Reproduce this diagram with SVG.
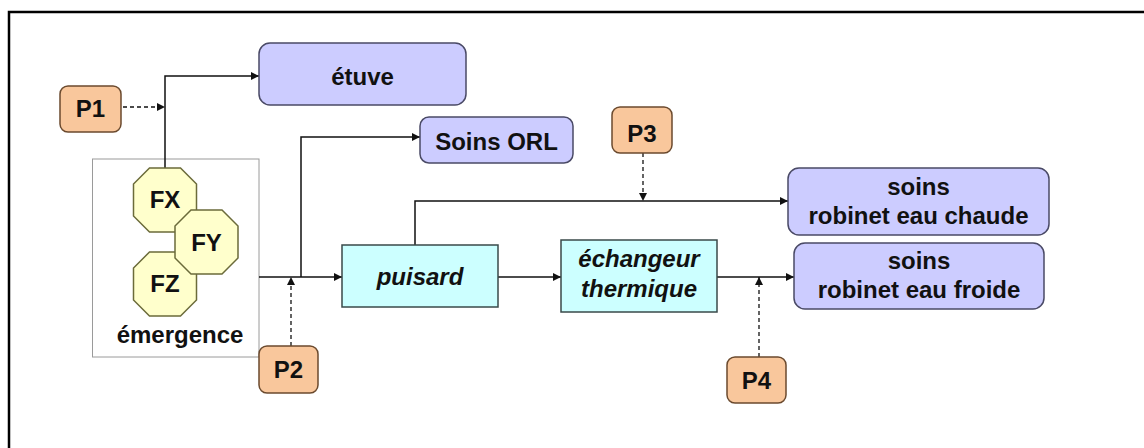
<svg xmlns="http://www.w3.org/2000/svg" width="1144" height="448" viewBox="0 0 1144 448">
<style>
text{font-family:"Liberation Sans",Arial,sans-serif;font-weight:bold;font-size:24px;fill:#111;text-anchor:middle}
.it{font-style:italic}
.p rect{fill:#F9C79C;stroke:#6B4A2E;stroke-width:1.5}
.dest rect{fill:#CCCCFF;stroke:#4A4A66;stroke-width:1.5}
.proc rect{fill:#CCFFFF;stroke:#3A4A4A;stroke-width:1.5}
.oct polygon{fill:#FFFFCC;stroke:#6B6B3A;stroke-width:1.5}
.c{fill:none;stroke:#111;stroke-width:1.5}
.d{fill:none;stroke:#111;stroke-width:1.3;stroke-dasharray:4,3}
</style>
<defs>
<marker id="ah" viewBox="0 0 10 10" refX="10" refY="5" markerWidth="10" markerHeight="8" markerUnits="userSpaceOnUse" orient="auto">
<path d="M0,0 L10,5 L0,10 z" fill="#111"/>
</marker>
</defs>
<rect width="1144" height="448" fill="#fff"/>
<path d="M9,448 V12 H1144" fill="none" stroke="#000" stroke-width="2.5"/>

<g id="emergence">
<rect x="92.5" y="159" width="166.5" height="198" fill="#fff" stroke="#9a9a9a" stroke-width="1"/>
<text x="180" y="343">émergence</text>
</g>

<g id="connectors">
<path class="c" d="M165,168 V76 H259" marker-end="url(#ah)"/>
<path class="d" d="M123,107 H165" marker-end="url(#ah)"/>
<path class="c" d="M259,277 H342" marker-end="url(#ah)"/>
<path class="c" d="M301,277 V137 H420" marker-end="url(#ah)"/>
<path class="d" d="M291,346 V277" marker-end="url(#ah)"/>
<path class="c" d="M415,245 V201 H788" marker-end="url(#ah)"/>
<path class="d" d="M643,153 V201" marker-end="url(#ah)"/>
<path class="c" d="M498,277 H561" marker-end="url(#ah)"/>
<path class="c" d="M717,277 H794" marker-end="url(#ah)"/>
<path class="d" d="M759,357 V277" marker-end="url(#ah)"/>
</g>

<g id="FX" class="oct">
<polygon points="149.5,168 180.5,168 196.5,184 196.5,216 180.5,232 149.5,232 133.5,216 133.5,184"/>
<text x="165" y="208">FX</text>
</g>
<g id="FZ" class="oct">
<polygon points="149.5,252 180.5,252 196.5,268 196.5,300 180.5,316 149.5,316 133.5,300 133.5,268"/>
<text x="165" y="292">FZ</text>
</g>
<g id="FY" class="oct">
<polygon points="191,210 222,210 238,226 238,258 222,274 191,274 175,258 175,226"/>
<text x="206.5" y="251">FY</text>
</g>

<g id="P1" class="p">
<rect x="60" y="86" width="61" height="46" rx="8"/>
<text x="90.5" y="117">P1</text>
</g>
<g id="P2" class="p">
<rect x="259" y="346" width="59" height="47" rx="8"/>
<text x="288.5" y="378">P2</text>
</g>
<g id="P3" class="p">
<rect x="612" y="107" width="60" height="46" rx="8"/>
<text x="642" y="142">P3</text>
</g>
<g id="P4" class="p">
<rect x="727" y="357" width="59" height="46" rx="8"/>
<text x="756.5" y="389">P4</text>
</g>

<g id="etuve" class="dest">
<rect x="259" y="43" width="207" height="62" rx="11"/>
<text x="362.5" y="85">étuve</text>
</g>
<g id="soins-orl" class="dest">
<rect x="420" y="117" width="153" height="46" rx="9"/>
<text x="496.5" y="150">Soins ORL</text>
</g>
<g id="soins-chaude" class="dest">
<rect x="788" y="168" width="261" height="67" rx="11"/>
<text x="918.5" y="195">soins</text>
<text x="918.5" y="224">robinet eau chaude</text>
</g>
<g id="soins-froide" class="dest">
<rect x="794" y="243" width="250" height="66" rx="11"/>
<text x="919" y="269">soins</text>
<text x="919" y="298">robinet eau froide</text>
</g>

<g id="puisard" class="proc">
<rect x="342" y="245" width="156" height="62"/>
<text class="it" x="420" y="285">puisard</text>
</g>
<g id="echangeur" class="proc">
<rect x="561" y="240" width="156" height="72"/>
<text class="it" x="639" y="267">échangeur</text>
<text class="it" x="639" y="297">thermique</text>
</g>
</svg>
